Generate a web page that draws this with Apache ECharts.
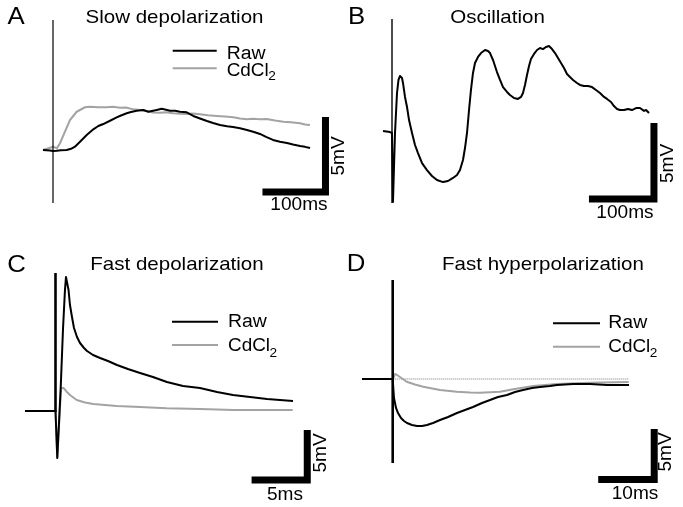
<!DOCTYPE html>
<html>
<head>
<meta charset="utf-8">
<script src="https://cdn.jsdelivr.net/npm/echarts@6/dist/echarts.min.js"></script>
<style>
html,body{margin:0;padding:0;background:#fff;}
#c{width:683px;height:507px;}
</style>
</head>
<body>
<div id="c"></div>
<script>
// ---------- DATA: [time (ms), voltage (mV)] ----------
var rawA = [[-15.9,0],[-4.8,-0.03],[0,-0.07],[5.9,-0.05],[12.7,-0.02],[21.7,0],[28.6,0.08],[34.9,0.22],[42.9,0.55],[53.5,1.0],[64,1.38],[71.9,1.6],[79.8,1.73],[90.5,1.95],[101.1,2.18],[107.9,2.3],[117,2.45],[123.8,2.53],[132.9,2.62],[143.3,2.67],[151.3,2.55],[157.1,2.6],[164.6,2.67],[172.5,2.75],[177.8,2.7],[185.7,2.62],[193.7,2.61],[201.6,2.55],[212.2,2.51],[222.7,2.27],[233.3,2.1],[244.4,1.93],[254,1.8],[265.1,1.67],[276.2,1.58],[285.7,1.53],[296.8,1.45],[307.9,1.33],[319,1.2],[328.6,1.07],[338.1,0.87],[349.2,0.67],[360.3,0.55],[371.4,0.47],[381,0.37],[392.1,0.27],[400,0.21],[408,0.13]];
var cdA = [[-15.9,0],[0.5,0.22],[5.9,0.11],[11.1,0.45],[19,1.22],[27,2.0],[37.6,2.55],[50.8,2.85],[58.7,2.89],[71.4,2.85],[85.2,2.85],[95.2,2.88],[106.3,2.82],[115.9,2.83],[127.5,2.71],[138.1,2.67],[148.7,2.6],[158.7,2.5],[169.8,2.49],[179.4,2.51],[191,2.45],[201.6,2.41],[212.2,2.4],[222.2,2.43],[233.3,2.38],[246,2.31],[259.8,2.27],[273,2.24],[286.2,2.18],[296.8,2.1],[307.5,2.05],[317.5,2.09],[328.6,2.05],[339.2,2.07],[352.4,1.97],[365.6,1.89],[377.8,1.85],[392.1,1.78],[400,1.7],[407.9,1.67]];
var stimA = [[0,8.67],[0,-3.53]];

var rawB = [[-13.8,0],[-3.1,-0.07],[0,-0.13],[1.5,-4.67],[4.6,-0.13],[7.7,2.5],[10,3.36],[12.3,3.62],[15.4,3.49],[16.9,3.16],[20,2.24],[23.1,1.58],[26.2,0.72],[30.8,-0.13],[35.4,-0.92],[40,-1.45],[46.2,-2.11],[53.8,-2.57],[61.5,-2.96],[69.2,-3.22],[78.5,-3.36],[86.2,-3.29],[93.8,-3.09],[100,-2.89],[104.6,-2.57],[109.2,-1.91],[112.3,-1.12],[115.4,-0.13],[118.5,1.38],[121.5,2.7],[124.6,3.82],[127.7,4.47],[132.3,4.87],[136.9,5.13],[143.1,5.33],[147.7,5.26],[150.8,5.13],[155.4,4.67],[161.5,3.88],[166.2,3.36],[170.8,2.89],[176.9,2.57],[181.5,2.37],[187.7,2.17],[193.8,2.11],[198.5,2.24],[201.5,2.5],[204.6,3.03],[207.7,3.68],[210.8,4.28],[213.8,4.74],[218.5,5.07],[223.1,5.33],[227.7,5.46],[232.3,5.39],[236.9,5.53],[241.5,5.59],[246.2,5.39],[250.8,5.13],[255.4,4.8],[260,4.47],[264.6,4.14],[269.2,3.75],[273.8,3.55],[278.5,3.36],[284.6,3.16],[289.2,3.03],[295.4,2.96],[301.5,2.96],[307.7,2.89],[313.8,2.7],[320,2.5],[326.2,2.24],[330.8,2.11],[336.9,1.91],[341.5,1.64],[346.2,1.45],[350.8,1.38],[356.9,1.38],[363.1,1.45],[369.2,1.38],[375.4,1.51],[381.5,1.51],[387.7,1.32],[390.8,1.38],[395.4,1.18]];
var stimB = [[0,7.37],[0,-4.74]];

var rawC = [[-2.74,0],[0,0],[0.16,-4.7],[0.47,2.4],[0.67,8.1],[0.85,12.1],[0.94,13.4],[1.03,13.3],[1.17,12.1],[1.3,10.6],[1.48,9.4],[1.66,8.3],[1.93,7.4],[2.2,6.8],[2.56,6.3],[2.83,6.0],[3.37,5.6],[4.0,5.3],[4.71,5.0],[5.52,4.6],[6.5,4.2],[7.59,3.8],[8.75,3.4],[10.0,2.9],[11.45,2.5],[12.97,2.3],[14.5,1.9],[15.93,1.6],[17.46,1.4],[18.99,1.2],[20.15,1.1],[21.32,1.0]];
var cdC = [[-2.74,0],[0,0],[0.16,-4.7],[0.5,2.3],[0.56,2.5],[0.72,2.3],[1.0,1.93],[1.3,1.6],[1.9,1.1],[2.65,0.85],[3.39,0.7],[5.49,0.5],[7.59,0.4],[9.98,0.27],[12.97,0.2],[15.96,0.1],[21.29,0.1]];
var stimC = [[0,13.8],[0,-0.1]];

var rawD = [[-5.48,0],[0,0],[0.23,-1.88],[0.41,-2.38],[0.59,-2.87],[0.95,-3.37],[1.48,-3.86],[2.02,-4.16],[2.55,-4.36],[3.45,-4.55],[4.34,-4.65],[5.23,-4.65],[6.13,-4.55],[7.2,-4.36],[8.45,-4.06],[9.88,-3.76],[11.48,-3.37],[12.91,-3.07],[14.34,-2.77],[15.95,-2.38],[17.38,-2.08],[18.8,-1.78],[20.41,-1.58],[21.84,-1.29],[23.27,-1.09],[24.88,-0.89],[26.3,-0.79],[28.09,-0.69],[29.34,-0.59],[32.2,-0.5],[35.23,-0.5],[38.27,-0.59],[42.2,-0.59]];
var cdD = [[0,0],[0.3,0.3],[0.41,0.5],[0.77,0.4],[1.3,0.2],[2.5,-0.27],[3.98,-0.54],[5.46,-0.76],[8.45,-1.09],[11.43,-1.26],[13.8,-1.34],[15.59,-1.36],[19.16,-1.26],[21.54,-1.02],[25.11,-0.69],[29.29,-0.5],[35.23,-0.37],[42.14,-0.3]];
var baseD = [[0,0],[42.2,0]];
var stimD = [[0,9.8],[0,-8.32]];

// scale bar sizes [ms, mV] and labels
var barSize = {A:[100,5], B:[100,5], C:[5,5], D:[10,5]};
var barLabels = {A:['100ms','5mV'], B:['100ms','5mV'], C:['5ms','5mV'], D:['10ms','5mV']};
var titles = ['Slow depolarization','Oscillation','Fast depolarization','Fast hyperpolarization'];
var letters = ['A','B','C','D'];
var legendNames = ['Raw','CdCl'];

// ---------- LAYOUT ----------
var grids = [
  {left:40.4, top:0, width:299.25, height:210, x:[-20,455], y:[-4,10]},
  {left:379, top:9.4, width:299, height:212.8, x:[-20,440], y:[-6,8]},
  {left:22.08, top:251, width:311.92, height:240, x:[-3,25], y:[-8,16]},
  {left:359.1, top:257.8, width:313.6, height:232.3, x:[-6,50], y:[-11,12]}
];
// scale bar origin (left end t, baseline V) per panel
var barOrigin = {A:[332.5,-2.8], B:[303,-4.47], C:[17.6,-6.9], D:[36.7,-9.95]};

var BLACK = '#000', GRAY = '#a3a3a3';
var FONT = '"Liberation Sans", Arial, Helvetica, sans-serif';

function barPath(k){
  var o = barOrigin[k], s = barSize[k];
  return [[o[0], o[1]], [o[0]+s[0], o[1]], [o[0]+s[0], o[1]+s[1]]];
}

var series = [];
function addLine(idx, data, color, width, extra){
  var s = {type:'line', xAxisIndex:idx, yAxisIndex:idx, data:data, symbol:'none', silent:true,
    animation:false, clip:false, lineStyle:{color:color, width:width, join:'round', cap:'butt'}};
  if (extra) { for (var k in extra) s.lineStyle[k] = extra[k]; }
  series.push(s);
}
// A
addLine(0, cdA, GRAY, 2);
addLine(0, rawA, BLACK, 2);
addLine(0, stimA, BLACK, 1.2);
addLine(0, barPath('A'), BLACK, 7, {join:'miter'});
// B
addLine(1, rawB, BLACK, 2);
addLine(1, stimB, BLACK, 1.4);
addLine(1, barPath('B'), BLACK, 7, {join:'miter'});
// C
addLine(2, cdC, GRAY, 2);
addLine(2, rawC, BLACK, 2);
addLine(2, stimC, BLACK, 2.6);
addLine(2, barPath('C'), BLACK, 7, {join:'miter'});
// D
addLine(3, baseD, '#7a7a7a', 1, {type:'dotted'});
addLine(3, cdD, GRAY, 2);
addLine(3, rawD, BLACK, 2);
addLine(3, stimD, BLACK, 2.6);
addLine(3, barPath('D'), BLACK, 7, {join:'miter'});

var xAxes = grids.map(function(g,i){return {type:'value', gridIndex:i, min:g.x[0], max:g.x[1], show:false};});
var yAxes = grids.map(function(g,i){return {type:'value', gridIndex:i, min:g.y[0], max:g.y[1], show:false};});
var gridOpts = grids.map(function(g){return {left:g.left, top:g.top, width:g.width, height:g.height};});

function txt(str, x, y, size, opts){
  opts = opts || {};
  return {type:'text', x:x, y:y, rotation:opts.rot||0, scaleX:opts.sx||1.06, silent:true,
    style:{text:str, font:size+'px '+FONT, fill:'#000',
      align:opts.align||'center', textAlign:opts.align||'center',
      verticalAlign:'middle', textVerticalAlign:'middle'}};
}
function seg(x1,y1,x2,y2,color){
  return {type:'line', silent:true, shape:{x1:x1,y1:y1,x2:x2,y2:y2}, style:{stroke:color, lineWidth:2}};
}

var graphics = [];
// panel letters and titles
var letterPos = [[16,18],[356.5,18],[16.5,266],[356,265]];
var titlePos = [[174.5,18],[497.5,18],[177,265],[543,265]];
for (var i=0;i<4;i++){
  graphics.push(txt(letters[i], letterPos[i][0], letterPos[i][1], 23, {sx:1.12}));
  graphics.push(txt(titles[i], titlePos[i][0], titlePos[i][1], 19, {sx:1.08}));
}
// legends
function legend(x1, x2, yRaw, yCd, tx, yt1, yt2, subY){
  graphics.push(seg(x1,yRaw,x2,yRaw,BLACK));
  graphics.push(seg(x1,yCd,x2,yCd,GRAY));
  graphics.push(txt(legendNames[0], tx, yt1, 18, {align:'left', sx:1.08}));
  graphics.push(txt(legendNames[1], tx, yt2, 18, {align:'left', sx:1.05}));
  graphics.push(txt('2', tx + 41.5, subY, 13, {align:'left', sx:1.05}));
}
legend(172.7, 216.7, 50.7, 68.3, 226.7, 54, 71, 76);
legend(172, 218, 321.7, 345, 228, 322.5, 346.5, 353);
legend(553, 600, 323.3, 346.7, 608.3, 323, 347, 353.5);
// scale bar labels
var scaleTxt = [
  ['A', 299, 205.5, 339.5, 156],
  ['B', 625, 213, 668.5, 163.5],
  ['C', 285, 495, 321, 453],
  ['D', 635, 494.5, 666, 452]
];
scaleTxt.forEach(function(s){
  graphics.push(txt(barLabels[s[0]][0], s[1], s[2], 18, {sx:1.06}));
  graphics.push(txt(barLabels[s[0]][1], s[3], s[4], 18, {sx:1.06, rot:Math.PI/2}));
});

var chart = echarts.init(document.getElementById('c'), null, {renderer:'canvas'});
chart.setOption({
  backgroundColor:'#fff',
  animation:false,
  grid:gridOpts,
  xAxis:xAxes,
  yAxis:yAxes,
  series:series,
  graphic:{elements:graphics}
});
</script>
</body>
</html>
